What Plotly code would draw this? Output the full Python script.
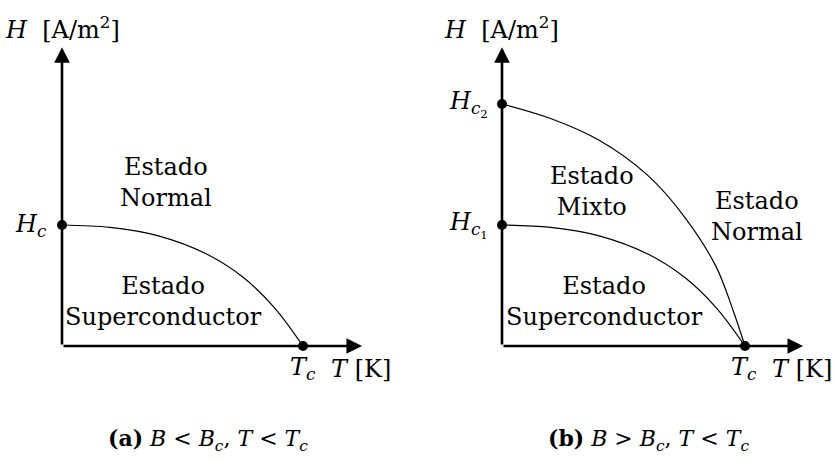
import plotly.graph_objects as go

# critical field curves, T in units of Tc, H in units of Hc (Hc1)
T_lower = [0, 0.2, 0.4, 0.6, 0.75, 0.88, 1.0]
H_lower = [1.0, 0.98, 0.91, 0.76, 0.57, 0.32, 0.0]
T_upper = [0, 0.2, 0.4, 0.6, 0.75, 0.88, 0.95, 1.0]
H_upper = [2.0, 1.88, 1.70, 1.41, 1.07, 0.66, 0.30, 0.0]

dots_a_T = [0, 1]
dots_a_H = [1, 0]
dots_b_T = [0, 0, 1]
dots_b_H = [1, 2, 0]

FONT = "DejaVu Serif"
fig = go.Figure()

# panel (a)
fig.add_trace(go.Scatter(x=T_lower, y=H_lower, mode='lines', line=dict(color='black', width=1.2, shape='spline'),
                         xaxis='x', yaxis='y'))
fig.add_trace(go.Scatter(x=dots_a_T, y=dots_a_H, mode='markers', marker=dict(color='black', size=10),
                         xaxis='x', yaxis='y'))
# panel (b)
fig.add_trace(go.Scatter(x=T_lower, y=H_lower, mode='lines', line=dict(color='black', width=1.2, shape='spline'),
                         xaxis='x2', yaxis='y2'))
fig.add_trace(go.Scatter(x=T_upper, y=H_upper, mode='lines', line=dict(color='black', width=1.2, shape='spline'),
                         xaxis='x2', yaxis='y2'))
fig.add_trace(go.Scatter(x=dots_b_T, y=dots_b_H, mode='markers', marker=dict(color='black', size=10),
                         xaxis='x2', yaxis='y2'))

annotations = []


def arrow(xr, yr, x, y, ax, ay):
    annotations.append(dict(xref=xr, yref=yr, axref=xr, ayref=yr, x=x, y=y, ax=ax, ay=ay, text='',
                            showarrow=True, arrowhead=2, arrowsize=1.2, arrowwidth=2.6, arrowcolor='black',
                            standoff=0, startstandoff=0))


def label(xr, yr, x, y, text, size=24, xanchor='center', yanchor='middle'):
    annotations.append(dict(xref=xr, yref=yr, x=x, y=y, text=text, showarrow=False,
                            xanchor=xanchor, yanchor=yanchor, font=dict(family=FONT, size=size, color='black')))


# axes
arrow('x', 'y', 1.245, 0, 0, 0)
arrow('x', 'y', 0, 2.47, 0, 0)
arrow('x2', 'y2', 1.239, 0, 0, 0)
arrow('x2', 'y2', 0, 2.47, 0, 0)

# panel (a) text
label('x', 'y', 0.0, 2.63, '<i>H</i>&nbsp; [A/m<sup>2</sup>]')
label('x', 'y', -0.055, 1.0, '<i>H<sub>c</sub></i>', xanchor='right')
label('x', 'y', 1.0, -0.19, '<i>T<sub>c</sub></i>')
label('x', 'y', 1.241, -0.19, '<i>T</i> [K]')
label('x', 'y', 0.432, 1.355, 'Estado<br>Normal')
label('x', 'y', 0.423, 0.364, 'Estado<br>Superconductor')
label('x', 'y', 0.606, -0.777, '<b>(a)</b> <i>B</i> &lt; <i>B<sub>c</sub></i>, <i>T</i> &lt; <i>T<sub>c</sub></i>', size=22)

# panel (b) text
label('x2', 'y2', 0.0, 2.63, '<i>H</i>&nbsp; [A/m<sup>2</sup>]')
label('x2', 'y2', -0.049, 2.0, '<i>H</i><sub><i>c</i><sub>2</sub></sub>', xanchor='right')
label('x2', 'y2', -0.049, 1.0, '<i>H</i><sub><i>c</i><sub>1</sub></sub>', xanchor='right')
label('x2', 'y2', 0.996, -0.19, '<i>T<sub>c</sub></i>')
label('x2', 'y2', 1.235, -0.19, '<i>T</i> [K]')
label('x2', 'y2', 0.370, 1.281, 'Estado<br>Mixto')
label('x2', 'y2', 1.049, 1.074, 'Estado<br>Normal')
label('x2', 'y2', 0.420, 0.364, 'Estado<br>Superconductor')
label('x2', 'y2', 0.601, -0.777, '<b>(b)</b> <i>B</i> &gt; <i>B<sub>c</sub></i>, <i>T</i> &lt; <i>T<sub>c</sub></i>', size=22)

hidden = dict(visible=False, showgrid=False, zeroline=False)
fig.update_layout(
    width=835, height=462,
    margin=dict(l=0, r=0, t=0, b=0, pad=0),
    paper_bgcolor='white', plot_bgcolor='white',
    showlegend=False,
    xaxis=dict(domain=[0, 0.5], range=[-0.2573, 1.4751], **hidden),
    yaxis=dict(domain=[0, 1], range=[-0.9587, 2.8595], **hidden),
    xaxis2=dict(domain=[0.5, 1], range=[-0.3477, 1.3704], **hidden),
    yaxis2=dict(domain=[0, 1], range=[-0.9587, 2.8595], anchor='x2', **hidden),
    annotations=annotations,
)

fig.write_html("out.html", config={'displayModeBar': False},
               post_script="document.body.style.margin='0';")
